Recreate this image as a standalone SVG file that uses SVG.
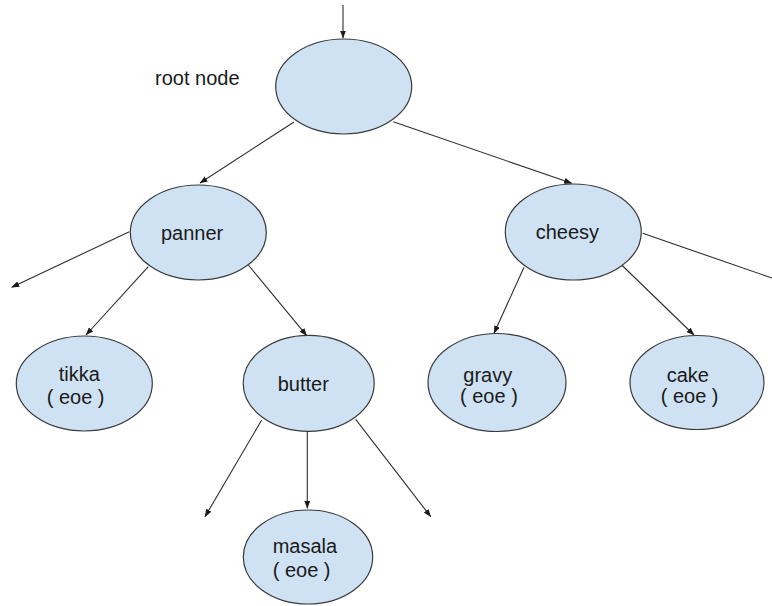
<svg xmlns="http://www.w3.org/2000/svg" width="772" height="606" viewBox="0 0 772 606">
  <style>
    .node ellipse { fill: #cfe2f3; stroke: #3a3a3a; stroke-width: 1.2; }
    .node text, .label { font-family: "Liberation Sans", Arial, sans-serif; font-size: 20px; fill: #1a1a1a; }
    .edge { stroke: #2e2e2e; stroke-width: 1.1; fill: none; }
    .edge.arrow { marker-end: url(#head); }
  </style>
  <defs>
    <marker id="head" markerUnits="userSpaceOnUse" markerWidth="8" markerHeight="6" refX="7.5" refY="3" orient="auto">
      <path d="M0,0 L8,3 L0,6 z" fill="#1a1a1a"/>
    </marker>
  </defs>

  <rect width="772" height="606" fill="#ffffff"/>

  <!-- connectors -->
  <g id="connectors">
    <line class="edge arrow" x1="343" y1="5" x2="343" y2="38"/>
    <line class="edge arrow" x1="294" y1="122" x2="200" y2="183"/>
    <line class="edge arrow" x1="393.3" y1="121.7" x2="571.7" y2="183.3"/>
    <line class="edge arrow" x1="129.3" y1="231.7" x2="11.7" y2="287.3"/>
    <line class="edge arrow" x1="148.3" y1="266.7" x2="86" y2="335"/>
    <line class="edge arrow" x1="248.3" y1="265" x2="306.7" y2="335.7"/>
    <line class="edge" x1="642.7" y1="233.3" x2="776" y2="279.4"/>
    <line class="edge arrow" x1="524" y1="267.3" x2="494" y2="333.3"/>
    <line class="edge arrow" x1="621.7" y1="265" x2="694" y2="335"/>
    <line class="edge arrow" x1="261.7" y1="420" x2="205" y2="516.7"/>
    <line class="edge arrow" x1="307.3" y1="431.7" x2="307.3" y2="508.3"/>
    <line class="edge arrow" x1="355.7" y1="419.3" x2="430.7" y2="516.7"/>
  </g>

  <text class="label" x="155" y="85">root node</text>

  <g id="root" class="node">
    <ellipse cx="343.7" cy="86.5" rx="68" ry="47.5"/>
  </g>

  <g id="panner" class="node">
    <ellipse cx="198.3" cy="232.5" rx="68" ry="47.5"/>
    <text x="161" y="239.5">panner</text>
  </g>

  <g id="cheesy" class="node">
    <ellipse cx="573.3" cy="232" rx="68" ry="48"/>
    <text x="535.7" y="239">cheesy</text>
  </g>

  <g id="tikka" class="node">
    <ellipse cx="84.3" cy="383.5" rx="68" ry="47.5"/>
    <text x="58.7" y="381">tikka</text>
    <text x="46.7" y="403.5">( eoe )</text>
  </g>

  <g id="butter" class="node">
    <ellipse cx="308.7" cy="383.3" rx="65.5" ry="48"/>
    <text x="277.7" y="391">butter</text>
  </g>

  <g id="gravy" class="node">
    <ellipse cx="497" cy="382.5" rx="69" ry="49"/>
    <text x="463.3" y="381.5">gravy</text>
    <text x="460" y="403">( eoe )</text>
  </g>

  <g id="cake" class="node">
    <ellipse cx="697" cy="382.5" rx="67" ry="47"/>
    <text x="666.7" y="381.7">cake</text>
    <text x="660.7" y="403.3">( eoe )</text>
  </g>

  <g id="masala" class="node">
    <ellipse cx="308" cy="557" rx="64.7" ry="47"/>
    <text x="272.7" y="553.3">masala</text>
    <text x="272.7" y="576.7">( eoe )</text>
  </g>
</svg>
